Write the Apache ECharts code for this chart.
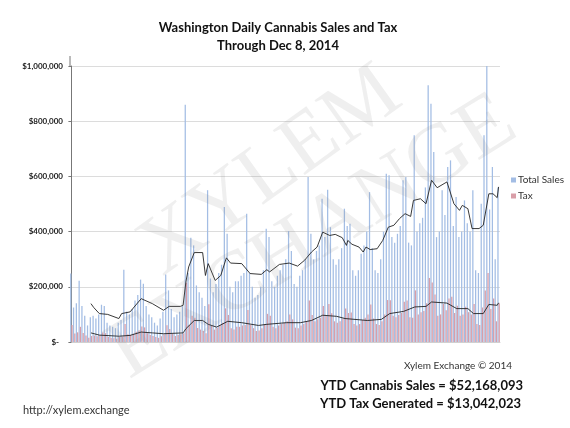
<!DOCTYPE html>
<html>
<head>
<meta charset="utf-8">
<script src="https://cdn.jsdelivr.net/npm/echarts@6/dist/echarts.min.js"></script>
<style>
  html, body { margin: 0; padding: 0; background: #fff; }
  #container { width: 570px; height: 428px; }
</style>
</head>
<body>
<div id="container"></div>
<script>
// daily totals, in $ thousands, July 8 - Dec 8 2014
const sales = [
  248, 125, 140, 222, 130, 95, 60, 90, 95, 85, 100, 135, 130, 70,
  60, 55, 50, 70, 80, 262, 110, 100, 120, 150, 170, 226, 211, 130,
  100, 90, 70, 60, 85, 110, 245, 187, 120, 90, 100, 110, 130, 860,
  250, 378, 350, 205, 180, 160, 130, 550, 230, 180, 210, 250, 280, 489,
  392, 200, 180, 220, 220, 240, 250, 465, 250, 200, 160, 170, 200, 260,
  410, 380, 220, 200, 240, 260, 280, 300, 402, 330, 210, 200, 240, 260,
  300, 598, 392, 300, 330, 350, 519, 380, 552, 416, 300, 280, 300, 340,
  483, 420, 428, 260, 240, 260, 320, 350, 400, 543, 340, 260, 250, 300,
  400, 610, 604, 380, 360, 392, 420, 586, 598, 360, 350, 749, 400, 430,
  450, 560, 930, 863, 688, 380, 400, 550, 460, 634, 658, 420, 525, 380,
  400, 513, 430, 400, 550, 260, 250, 501, 749, 1002, 480, 634, 300, 560
];

const tax = [
  62, 31, 35, 55, 33, 24, 15, 22, 24, 21, 25, 34, 32, 18,
  15, 14, 12, 18, 20, 65, 28, 25, 30, 37, 42, 56, 53, 32,
  25, 22, 18, 15, 21, 28, 61, 47, 30, 22, 25, 28, 32, 215,
  62, 95, 88, 51, 45, 40, 32, 137, 58, 45, 52, 62, 70, 122,
  98, 50, 45, 55, 55, 60, 62, 116, 62, 50, 40, 42, 50, 65,
  102, 95, 55, 50, 60, 65, 70, 75, 100, 82, 52, 50, 60, 65,
  75, 150, 98, 75, 82, 88, 130, 95, 138, 104, 75, 70, 75, 85,
  121, 105, 107, 65, 60, 65, 80, 88, 100, 136, 85, 65, 62, 75,
  100, 152, 151, 95, 90, 98, 105, 146, 150, 90, 88, 187, 100, 108,
  112, 140, 232, 216, 172, 95, 100, 138, 115, 158, 164, 105, 131, 95,
  100, 128, 108, 100, 138, 65, 62, 125, 187, 250, 120, 158, 75, 140
];

// moving-average lines: [day index, $ thousands]
const salesAvg = [
  [7, 139], [8, 125], [10, 103], [13, 100], [17, 85], [18, 103], [21, 109],
  [25, 157], [29, 139], [33, 115], [35, 129], [39, 129], [40, 133], [41, 217],
  [42, 272], [44, 324], [47, 324], [48, 241], [49, 284], [51.5, 223], [53.5, 241],
  [55.5, 305], [57, 286], [61, 284], [64, 248], [68, 245], [70, 262], [71, 254],
  [74.5, 281], [78, 286], [81, 275], [83.5, 296], [86, 326], [88, 344], [90, 398],
  [92.5, 386], [94.5, 390], [97, 378], [98.5, 350], [99, 368], [100.5, 354],
  [103, 344], [104.5, 326], [105.5, 344], [107, 335], [109.5, 338], [111.5, 368],
  [113.5, 416], [115.5, 423], [117.5, 447], [119.5, 465], [121.5, 455],
  [122.5, 513], [125, 519], [127, 501], [129, 586], [131, 559], [134.5, 580],
  [137, 501], [139, 477], [140, 495], [142, 483], [143.5, 411], [146, 411],
  [147.5, 423], [149.5, 537], [151, 537], [152.5, 523], [153, 562]
];

const taxAvg = [
  [7, 33], [10, 25], [17, 21], [21, 24], [25, 36], [29, 33], [33, 30], [40, 33],
  [41, 48], [44, 78], [47, 78], [49, 64], [52, 54], [56, 75], [61, 70], [67, 60],
  [70, 64], [77, 70], [82, 70], [86, 78], [90, 97], [95, 93], [98, 85], [106, 78],
  [111, 82], [114, 103], [119, 111], [123, 127], [127, 129], [129, 145],
  [134.5, 141], [138, 121], [142, 121], [144, 103], [147.5, 103], [149.5, 136],
  [152.5, 133], [153, 142]
];

const days = [];
const start = new Date(2014, 6, 8);
for (let i = 0; i < sales.length; i++) {
  const d = new Date(start.getTime() + i * 86400000);
  days.push((d.getMonth() + 1) + '/' + d.getDate());
}

const k = v => v * 1000;
const font = 'Lato, "Open Sans", sans-serif';

const chart = echarts.init(document.getElementById('container'));

const option = {
  animation: false,
  backgroundColor: '#fff',
  title: {
    text: 'Washington Daily Cannabis Sales and Tax\nThrough Dec 8, 2014',
    left: 273,
    textAlign: 'center',
    top: 14,
    textStyle: { fontFamily: font, fontSize: 13, fontWeight: 'bold', color: '#111', lineHeight: 18 }
  },
  legend: {
    data: ['Total Sales', 'Tax'],
    orient: 'vertical',
    left: 506,
    top: 169,
    itemWidth: 5,
    itemHeight: 5,
    itemGap: 4,
    icon: 'rect',
    textStyle: { fontFamily: font, fontSize: 10, color: '#333', padding: [0, 0, 0, -3], lineHeight: 12 }
  },
  grid: { left: 70, right: 70, top: 66, bottom: 86 },
  xAxis: [
    {
      type: 'category',
      data: days,
      axisLine: { lineStyle: { color: '#d0d0d0' } },
      axisTick: { show: false },
      axisLabel: { show: false }
    },
    {
      type: 'value',
      min: -0.5,
      max: sales.length - 0.5,
      show: false
    }
  ],
  yAxis: {
    type: 'value',
    min: 0,
    max: 1000000,
    interval: 200000,
    axisLine: { show: true, lineStyle: { color: '#777' } },
    axisTick: { show: true, length: 3, lineStyle: { color: '#777' } },
    splitLine: { lineStyle: { color: '#dcdcdc' } },
    axisLabel: {
      fontFamily: font,
      fontSize: 8,
      fontWeight: 'bold',
      color: '#222',
      margin: 7,
      formatter: v => v === 0 ? '{z|$-}' : '$' + v.toLocaleString('en-US'),
      rich: {
        z: { fontFamily: font, fontSize: 8, fontWeight: 'bold', color: '#222', padding: [0, 4, 0, 0] }
      }
    }
  },
  graphic: [
    { type: 'line', shape: { x1: 70, y1: 56, x2: 70, y2: 66 }, style: { stroke: '#777', lineWidth: 1 } },
    {
      type: 'text', x: 271, y: 172, rotation: 0.62, z: 100,
      style: { text: 'XYLEM', fontFamily: '"Liberation Serif", serif', fontSize: 84,
        fill: 'rgba(120,120,120,0.12)', textAlign: 'center', textVerticalAlign: 'middle' }
    },
    {
      type: 'text', x: 313, y: 238, rotation: 0.56, z: 100,
      style: { text: 'EXCHANGE', fontFamily: '"Liberation Serif", serif', fontSize: 84,
        fill: 'rgba(120,120,120,0.12)', textAlign: 'center', textVerticalAlign: 'middle' }
    },
    {
      type: 'text', x: 512, y: 366,
      style: { text: 'Xylem Exchange © 2014', fontFamily: font, fontSize: 10, fill: '#333',
        textAlign: 'right', textVerticalAlign: 'middle' }
    },
    {
      type: 'text', x: 523, y: 386,
      style: { text: 'YTD Cannabis Sales = $52,168,093', fontFamily: font, fontSize: 13,
        fontWeight: 'bold', fill: '#111', textAlign: 'right', textVerticalAlign: 'middle' }
    },
    {
      type: 'text', x: 521, y: 404,
      style: { text: 'YTD Tax Generated = $13,042,023', fontFamily: font, fontSize: 13,
        fontWeight: 'bold', fill: '#111', textAlign: 'right', textVerticalAlign: 'middle' }
    },
    {
      type: 'text', x: 23, y: 410,
      style: { text: 'http://xylem.exchange', fontFamily: font, fontSize: 11, fill: '#333',
        textAlign: 'left', textVerticalAlign: 'middle' }
    }
  ],
  series: [
    {
      name: 'Total Sales',
      type: 'bar',
      data: sales.map(k),
      barGap: '0%',
      barCategoryGap: '10%',
      itemStyle: { color: '#a3bde4' }
    },
    {
      name: 'Tax',
      type: 'bar',
      data: tax.map(k),
      itemStyle: { color: '#d99ea8' }
    },
    {
      name: 'Sales avg',
      type: 'line',
      xAxisIndex: 1,
      data: salesAvg.map(p => [p[0], k(p[1])]),
      symbol: 'none',
      lineStyle: { color: '#222', width: 0.9 },
      z: 5
    },
    {
      name: 'Tax avg',
      type: 'line',
      xAxisIndex: 1,
      data: taxAvg.map(p => [p[0], k(p[1])]),
      symbol: 'none',
      lineStyle: { color: '#222', width: 0.9 },
      z: 5
    }
  ]
};

chart.setOption(option);
</script>
</body>
</html>
